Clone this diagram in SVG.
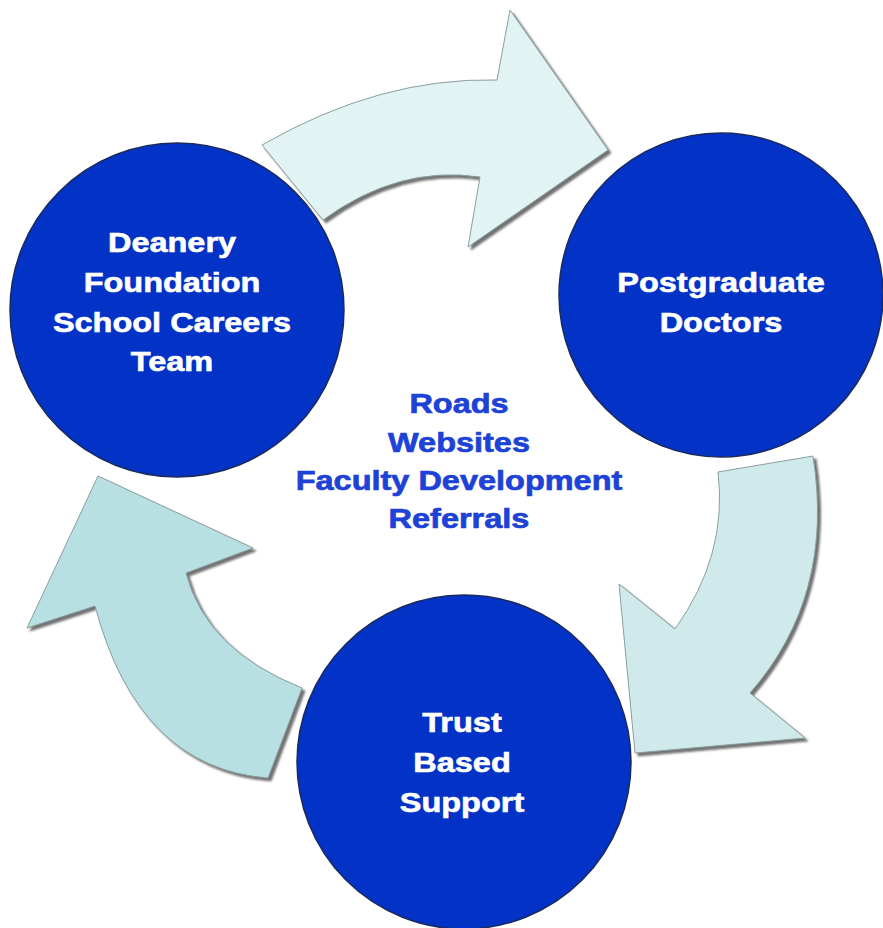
<svg xmlns="http://www.w3.org/2000/svg" width="883" height="928" viewBox="0 0 883 928">
<defs>
<filter id="sh" x="-10%" y="-10%" width="130%" height="130%">
<feDropShadow dx="3" dy="3" stdDeviation="1" flood-color="#6a6a6a" flood-opacity="0.95"/>
</filter>
</defs>
<style>
.node{fill:#0232c6;stroke:#1b2a5c;stroke-width:1.5}
.nt{font-family:"Liberation Sans",Arial,sans-serif;font-weight:bold;font-size:28px;fill:#ffffff;stroke:#ffffff;stroke-width:0.6;text-anchor:middle}
.ct{font-family:"Liberation Sans",Arial,sans-serif;font-weight:bold;font-size:28px;fill:#1d42d6;stroke:#1d42d6;stroke-width:0.7;text-anchor:middle}
.arr{stroke:#8a9ea0;stroke-width:1;filter:url(#sh)}
</style>
<rect width="883" height="928" fill="#ffffff"/>
<g id="node-deanery">
<circle class="node" cx="177" cy="310" r="167"/>
<g transform="translate(172,0) scale(1.16,1)">
<text class="nt" x="0" y="252">Deanery</text>
<text class="nt" x="0" y="292">Foundation</text>
<text class="nt" x="0" y="332">School Careers</text>
<text class="nt" x="0" y="371">Team</text>
</g>
</g>
<g id="node-postgraduate">
<circle class="node" cx="721" cy="295" r="162"/>
<g transform="translate(721,0) scale(1.16,1)">
<text class="nt" x="0" y="292">Postgraduate</text>
<text class="nt" x="0" y="332">Doctors</text>
</g>
</g>
<g id="node-trust">
<circle class="node" cx="464" cy="762" r="167"/>
<g transform="translate(462,0) scale(1.16,1)">
<text class="nt" x="0" y="732">Trust</text>
<text class="nt" x="0" y="772">Based</text>
<text class="nt" x="0" y="812">Support</text>
</g>
</g>
<g id="center-label" transform="translate(459,0) scale(1.16,1)">
<text class="ct" x="0" y="413">Roads</text>
<text class="ct" x="0" y="452">Websites</text>
<text class="ct" x="0" y="490">Faculty Development</text>
<text class="ct" x="0" y="528">Referrals</text>
</g>
<g id="connectors">
<path class="arr" fill="#e2f3f3" d="M262,145 Q380,77 497,80 L510,10 L608,150 L468,247 L480,177 Q398,165 323,220 Z"/>
<path class="arr" fill="#d0eaec" d="M718,472 L813,456 Q835,596 750,693 L805,738 L635,753 L619,584 L675,629 Q728,555 718,472 Z"/>
<path class="arr" fill="#b8dfe2" d="M98,476 L253,548 L186,573 Q206,650 302,688 L268,778 Q138,768 95,606 L27,628 Z"/>
</g>
</svg>
